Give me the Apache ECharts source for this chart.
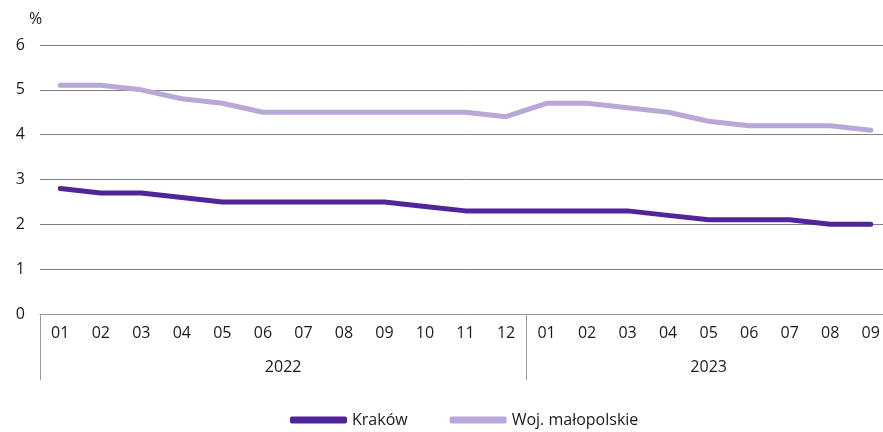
<!DOCTYPE html>
<html>
<head>
<meta charset="utf-8">
<script src="https://cdn.jsdelivr.net/npm/echarts@6/dist/echarts.min.js"></script>
<style>
  html, body { margin: 0; padding: 0; background: #fff; overflow: hidden; }
  /* wykres jest nieco szerszy niż okno – ostatnia kategoria wychodzi za krawędź jak w oryginale */
  #chart { width: 891px; height: 432px; }
</style>
</head>
<body>
<div id="chart"></div>
<script>
// dane
const months = ["01", "02", "03", "04", "05", "06", "07", "08", "09", "10", "11", "12",
  "01", "02", "03", "04", "05", "06", "07", "08", "09"];
const years = ["2022", "2023"];
const monthsPerYear = [12, 9];
const krakow = [2.8, 2.7, 2.7, 2.6, 2.5, 2.5, 2.5, 2.5, 2.5, 2.4, 2.3, 2.3,
  2.3, 2.3, 2.3, 2.2, 2.1, 2.1, 2.1, 2.0, 2.0];
const malopolskie = [5.1, 5.1, 5.0, 4.8, 4.7, 4.5, 4.5, 4.5, 4.5, 4.5, 4.5, 4.4,
  4.7, 4.7, 4.6, 4.5, 4.3, 4.2, 4.2, 4.2, 4.1];
const yTicks = [0, 1, 2, 3, 4, 5, 6];

const FONT = "'Open Sans', 'Noto Sans', sans-serif";
const TEXT = "#1a1a1a";

// granice lat i środki etykiet (w jednostkach kategorii)
const yearBounds = [-0.5];
const yearCenters = [];
let start = 0;
monthsPerYear.forEach(n => {
  yearCenters.push(start + (n - 1) / 2);
  start += n;
  yearBounds.push(start - 0.5);
});

const chart = echarts.init(document.getElementById("chart"));

const option = {
  animation: false,
  textStyle: { fontFamily: FONT },
  grid: { left: 40, right: 0, top: 45, bottom: 118 },
  legend: {
    bottom: -1,
    left: 285,
    itemWidth: 57,
    itemHeight: 7,
    itemGap: 42,
    icon: "roundRect",
    textStyle: { fontSize: 16, color: TEXT, fontFamily: FONT },
    data: ["Kraków", "Woj. małopolskie"]
  },
  xAxis: [
    {
      type: "category",
      data: months,
      boundaryGap: true,
      axisLine: { lineStyle: { color: "#9a9a9a", width: 1 } },
      axisTick: { show: false },
      axisLabel: { fontSize: 16, color: TEXT, margin: 11 }
    },
    {
      type: "value",
      position: "bottom",
      min: -0.5,
      max: months.length - 0.5,
      axisLine: { show: false },
      splitLine: { show: false },
      axisTick: {
        show: true,
        customValues: yearBounds,
        length: 66,
        lineStyle: { color: "#9a9a9a", width: 1 }
      },
      axisLabel: {
        customValues: yearCenters,
        fontSize: 16,
        color: TEXT,
        margin: 45,
        formatter: v => years[yearCenters.indexOf(v)] || ""
      }
    }
  ],
  yAxis: {
    type: "value",
    min: 0,
    max: 6,
    interval: 1,
    name: "%",
    nameLocation: "end",
    nameGap: 18,
    nameTextStyle: { fontSize: 16, color: TEXT, align: "right", padding: [0, 18, 0, 0] },
    axisLine: { show: false },
    axisTick: { show: false },
    axisLabel: {
      fontSize: 16,
      color: TEXT,
      margin: 15,
      formatter: v => (yTicks.includes(v) ? String(v) : "")
    },
    splitLine: { lineStyle: { color: "#808080", width: 1 } }
  },
  series: [
    {
      name: "Kraków",
      type: "line",
      data: krakow,
      symbol: "none",
      lineStyle: { width: 5, color: "#50259a", cap: "round", join: "round" },
      itemStyle: { color: "#50259a" }
    },
    {
      name: "Woj. małopolskie",
      type: "line",
      data: malopolskie,
      symbol: "none",
      lineStyle: { width: 5, color: "#b8a7d7", cap: "round", join: "round" },
      itemStyle: { color: "#b8a7d7" }
    }
  ]
};

chart.setOption(option);
</script>
</body>
</html>
